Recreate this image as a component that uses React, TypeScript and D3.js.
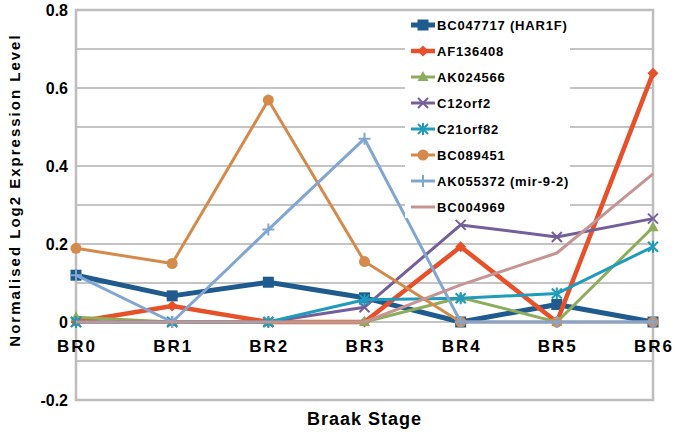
import React from "react";
import * as d3 from "d3";

const stages = ["BR0", "BR1", "BR2", "BR3", "BR4", "BR5", "BR6"];
const yTicks = [-0.2, 0, 0.2, 0.4, 0.6, 0.8];
const yGrid = [-0.1, 0, 0.1, 0.2, 0.3, 0.4, 0.5, 0.6, 0.7];

const seriesNames = [
  "BC047717 (HAR1F)",
  "AF136408",
  "AK024566",
  "C12orf2",
  "C21orf82",
  "BC089451",
  "AK055372 (mir-9-2)",
  "BC004969",
];
const seriesColors = ["#1f5b8e", "#e8502a", "#8cad5a", "#755f99", "#1f9bbd", "#d58a4b", "#82a6d3", "#c79494"];
const seriesMarkers = ["square", "diamond", "triangle", "x", "star", "circle", "plus", "none"];
const seriesWidths = [5, 4.5, 3, 3, 3, 3, 3, 3];

const bc047717 = [0.12, 0.067, 0.102, 0.062, 0, 0.045, 0];
const af136408 = [0, 0.041, 0, 0, 0.193, 0, 0.638];
const ak024566 = [0.012, 0, 0, 0, 0.063, 0, 0.243];
const c12orf2 = [0, 0, 0, 0.038, 0.249, 0.218, 0.265];
const c21orf82 = [0, 0, 0, 0.057, 0.061, 0.073, 0.193];
const bc089451 = [0.189, 0.15, 0.569, 0.155, 0, 0, 0];
const ak055372 = [0.12, 0, 0.237, 0.47, 0, 0, 0];
const bc004969 = [0, 0, 0, 0, 0.095, 0.177, 0.38];

const seriesValues = [bc047717, af136408, ak024566, c12orf2, c21orf82, bc089451, ak055372, bc004969];

const FONT = "'Liberation Sans', Arial, sans-serif";

function Marker({ type, x, y, color }: { type: string; x: number; y: number; color: string }) {
  switch (type) {
    case "square":
      return <rect x={x - 5.5} y={y - 5.5} width={11} height={11} fill={color} />;
    case "diamond":
      return <path d={`M${x},${y - 5.5}L${x + 5.5},${y}L${x},${y + 5.5}L${x - 5.5},${y}Z`} fill={color} />;
    case "triangle":
      return <path d={`M${x},${y - 6}L${x + 5.5},${y + 4}L${x - 5.5},${y + 4}Z`} fill={color} />;
    case "circle":
      return <circle cx={x} cy={y} r={5.5} fill={color} />;
    case "x":
      return (
        <path d={`M${x - 5},${y - 5}L${x + 5},${y + 5}M${x - 5},${y + 5}L${x + 5},${y - 5}`} stroke={color} strokeWidth={2} />
      );
    case "star":
      return (
        <path
          d={`M${x - 5},${y - 5}L${x + 5},${y + 5}M${x - 5},${y + 5}L${x + 5},${y - 5}M${x},${y - 6}L${x},${y + 6}`}
          stroke={color}
          strokeWidth={2}
        />
      );
    case "plus":
      return <path d={`M${x - 6},${y}L${x + 6},${y}M${x},${y - 6}L${x},${y + 6}`} stroke={color} strokeWidth={2} />;
    default:
      return null;
  }
}

export default function App() {
  const W = 677;
  const H = 432;
  const left = 76;
  const right = 653;
  const top = 10;
  const bottom = 400;

  const x = d3.scalePoint<string>().domain(stages).range([left, right]);
  const y = d3.scaleLinear().domain([-0.2, 0.8]).range([bottom, top]);
  const line = d3
    .line<number>()
    .x((_, i) => x(stages[i]) as number)
    .y((d) => y(d));

  const legX = 411;
  const legY0 = 25;
  const legStep = 26;

  return (
    <svg width={W} height={H} style={{ position: "absolute", left: 0, top: 0, background: "#fff" }}>
      <rect x={0} y={0} width={W} height={H} fill="#fff" />
      {yGrid.map((g) => (
        <line key={g} x1={left} x2={right} y1={y(g)} y2={y(g)} stroke="#c4c4c4" strokeWidth={2} />
      ))}
      <rect x={left} y={top} width={right - left} height={bottom - top} fill="none" stroke="#bdbdbd" strokeWidth={2.5} />
      {yTicks.map((t) => (
        <text
          key={t}
          x={68}
          y={y(t)}
          dy="0.36em"
          textAnchor="end"
          fontFamily={FONT}
          fontWeight="bold"
          fontSize={16}
        >
          {t === 0 ? "0" : t.toFixed(1)}
        </text>
      ))}
      {stages.map((s) => (
        <text
          key={s}
          x={(x(s) as number) + 1}
          y={y(-0.06)}
          dy="0.36em"
          textAnchor="middle"
          fontFamily={FONT}
          fontWeight="bold"
          fontSize={17}
          letterSpacing={2}
        >
          {s}
        </text>
      ))}
      {seriesValues.map((vals, si) => (
        <g key={seriesNames[si]}>
          <path d={line(vals) || ""} fill="none" stroke={seriesColors[si]} strokeWidth={seriesWidths[si]} strokeLinejoin="round" />
          {vals.map((v, i) => (
            <Marker key={i} type={seriesMarkers[si]} x={x(stages[i]) as number} y={y(v)} color={seriesColors[si]} />
          ))}
        </g>
      ))}
      <rect x={405} y={12} width={165} height={206} fill="#fff" />
      {seriesNames.map((n, i) => {
        const ly = legY0 + i * legStep;
        return (
          <g key={n}>
            <line x1={legX} x2={legX + 24} y1={ly} y2={ly} stroke={seriesColors[i]} strokeWidth={seriesWidths[i]} />
            <Marker type={seriesMarkers[i]} x={legX + 12} y={ly} color={seriesColors[i]} />
            <text
              x={legX + 26}
              y={ly}
              dy="0.36em"
              fontFamily={FONT}
              fontWeight="bold"
              fontSize={13}
              letterSpacing={0.8}
            >
              {n}
            </text>
          </g>
        );
      })}
      <text
        transform={`translate(15,${(top + bottom) / 2 - 15}) rotate(-90)`}
        textAnchor="middle"
        dy="0.36em"
        fontFamily={FONT}
        fontWeight="bold"
        fontSize={15}
        letterSpacing={2}
      >
        Normalised Log2 Expression Level
      </text>
      <text
        x={(left + right) / 2}
        y={419}
        dy="0.36em"
        textAnchor="middle"
        fontFamily={FONT}
        fontWeight="bold"
        fontSize={18}
        letterSpacing={1}
      >
        Braak Stage
      </text>
    </svg>
  );
}
